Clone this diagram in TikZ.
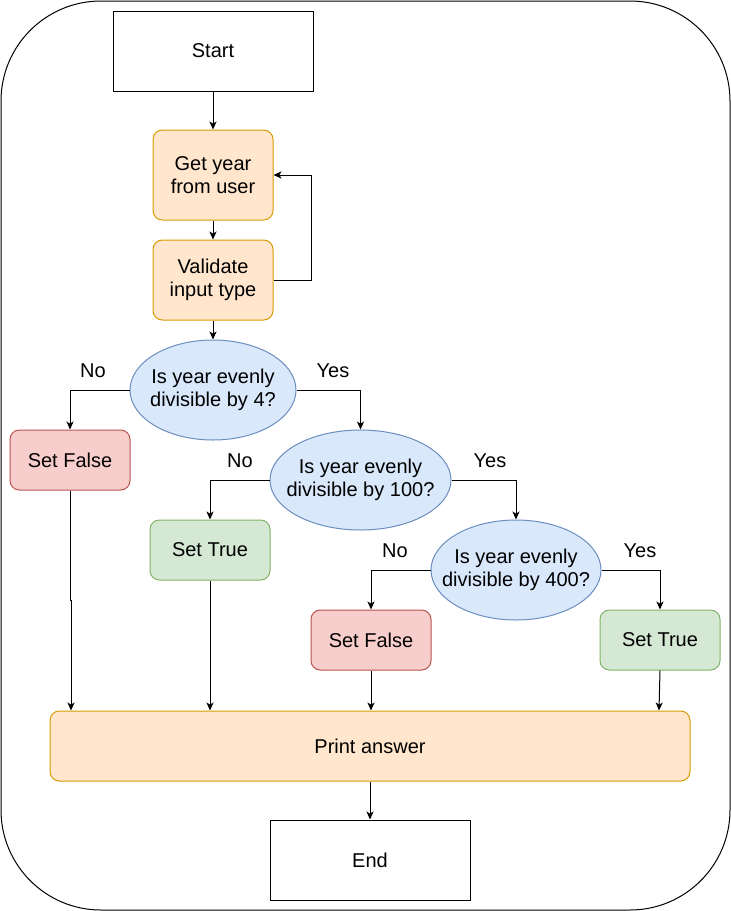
\documentclass[tikz,border=0pt]{standalone}
\usepackage{fontspec}
\setmainfont{Liberation Sans}
\usetikzlibrary{arrows.meta,shapes.geometric}
\definecolor{orfill}{HTML}{FFE6CC}
\definecolor{ordraw}{HTML}{D79B00}
\definecolor{blfill}{HTML}{DAE8FC}
\definecolor{bldraw}{HTML}{6C8EBF}
\definecolor{rdfill}{HTML}{F8CECC}
\definecolor{rddraw}{HTML}{B85450}
\definecolor{grfill}{HTML}{D5E8D4}
\definecolor{grdraw}{HTML}{82B366}
\tikzset{
  txt/.style={font=\fontsize{15pt}{17.5pt}\selectfont, align=center, inner sep=0pt},
  base/.style={txt, line width=0.75pt},
  plainbox/.style={base, draw=black, rectangle},
  orbox/.style={base, draw=ordraw, fill=orfill, rectangle, rounded corners=7pt},
  redbox/.style={base, draw=rddraw, fill=rdfill, rectangle, rounded corners=7pt, minimum width=90pt, minimum height=45pt},
  greenbox/.style={base, draw=grdraw, fill=grfill, rectangle, rounded corners=7pt, minimum width=90pt, minimum height=45pt},
  decision/.style={line width=0.75pt, draw=bldraw, fill=blfill, ellipse, inner sep=0pt, minimum height=75pt},
  lbl/.style={txt},
  arr/.style={line width=0.75pt, -{Stealth[length=6pt,width=5.3pt,inset=1.6pt]}},
}
\begin{document}
\begin{tikzpicture}[x=0.75pt,y=-0.75pt]
\useasboundingbox (0,0) rectangle (731,911);
\draw[line width=0.75pt, rounded corners=75pt] (1,1) rectangle (730,910);

\node[plainbox, minimum width=150pt, minimum height=60pt] (start) at (213,51) {Start};
\node[orbox, minimum width=90pt, minimum height=67.5pt] (get) at (213,175) {Get year\\from user};
\node[orbox, minimum width=90pt, minimum height=60pt] (val) at (213,280) {Validate\\input type};
\node[decision, minimum width=124.5pt, label={[txt]center:{Is year evenly\\divisible by 4?}}] (e1) at (213,390) {};
\node[redbox] (sf1) at (70,460) {Set False};
\node[decision, minimum width=135.75pt, label={[txt]center:{Is year evenly\\divisible by 100?}}] (e2) at (360.5,480) {};
\node[greenbox] (st1) at (210,550) {Set True};
\node[decision, minimum width=127.5pt, label={[txt]center:{Is year evenly\\divisible by 400?}}] (e3) at (516,570) {};
\node[redbox] (sf2) at (371,640) {Set False};
\node[greenbox] (st2) at (660,640) {Set True};
\node[orbox, minimum width=480pt, minimum height=52.5pt] (print) at (370,746) {Print answer};
\node[plainbox, minimum width=150pt, minimum height=60pt] (end) at (370,860) {End};

\node[lbl] (no1) at (93,371) {No};
\node[lbl] (yes1) at (333,371) {Yes};
\node[lbl] (no2) at (240,461) {No};
\node[lbl] (yes2) at (490,461) {Yes};
\node[lbl] (no3) at (395,551) {No};
\node[lbl] (yes3) at (640,551) {Yes};

\draw[arr] (start) -- (get);
\draw[arr] (get) -- (val);
\draw[arr] (val.east) -- ++(38,0) |- (get.east);
\draw[arr] (val) -- (e1);
\draw[arr] (e1.west) -| (sf1.north);
\draw[arr] (e1.east) -| (e2.north);
\draw[arr] (e2.west) -| (st1.north);
\draw[arr] (e2.east) -| (e3.north);
\draw[arr] (e3.west) -| (sf2.north);
\draw[arr] (e3.east) -| (st2.north);
\draw[arr] (sf1.south) -- ++(0,110) -| ([xshift=0.75pt]sf1.south |- print.north);
\draw[arr] (st1.south) -- (st1.south |- print.north);
\draw[arr] (sf2.south) -- (sf2.south |- print.north);
\draw[arr] (st2.south) -- ([xshift=-0.75pt]st2.south |- print.north);
\draw[arr] (print) -- (end);
\end{tikzpicture}
\end{document}
